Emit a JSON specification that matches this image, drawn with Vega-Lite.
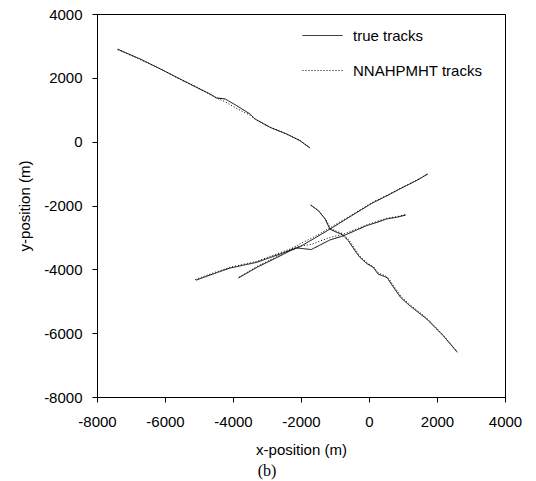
{
  "$schema": "https://vega.github.io/schema/vega-lite/v6.json",
  "width": 408,
  "height": 383,
  "autosize": {"type": "none"},
  "padding": {"left": 97, "top": 14, "right": 31, "bottom": 84},
  "background": "white",
  "config": {
    "view": {"stroke": "black", "strokeWidth": 1},
    "font": "Liberation Sans",
    "axis": {
      "grid": false,
      "domainColor": "black",
      "tickColor": "black",
      "tickSize": 5,
      "labelFlush": false,
      "labelOverlap": false,
      "labelFont": "Liberation Sans",
      "labelFontSize": 15,
      "labelColor": "black",
      "titleFont": "Liberation Sans",
      "titleFontSize": 15,
      "titleFontWeight": "normal",
      "titleColor": "black"
    }
  },
  "title": {
    "text": "(b)",
    "orient": "bottom",
    "anchor": "middle",
    "font": "Liberation Serif",
    "fontSize": 16,
    "fontWeight": "normal",
    "color": "black",
    "dx": -34,
    "offset": 6
  },
  "data": {
    "values": [
      {"trk": "1", "type": "true tracks", "i": 0, "x": -7400, "y": 2900},
      {"trk": "1", "type": "true tracks", "i": 1, "x": -6730, "y": 2590},
      {"trk": "1", "type": "true tracks", "i": 2, "x": -6150, "y": 2285},
      {"trk": "1", "type": "true tracks", "i": 3, "x": -5650, "y": 2015},
      {"trk": "1", "type": "true tracks", "i": 4, "x": -5070, "y": 1700},
      {"trk": "1", "type": "true tracks", "i": 5, "x": -4680, "y": 1495},
      {"trk": "1", "type": "true tracks", "i": 6, "x": -4480, "y": 1370},
      {"trk": "1", "type": "true tracks", "i": 7, "x": -4230, "y": 1338},
      {"trk": "1", "type": "true tracks", "i": 8, "x": -3890, "y": 1128},
      {"trk": "1", "type": "true tracks", "i": 9, "x": -3500, "y": 868},
      {"trk": "1", "type": "true tracks", "i": 10, "x": -3350, "y": 711},
      {"trk": "1", "type": "true tracks", "i": 11, "x": -2910, "y": 448},
      {"trk": "1", "type": "true tracks", "i": 12, "x": -2420, "y": 241},
      {"trk": "1", "type": "true tracks", "i": 13, "x": -2030, "y": 31},
      {"trk": "1", "type": "true tracks", "i": 14, "x": -1730, "y": -200},

      {"trk": "1e", "type": "NNAHPMHT tracks", "i": 0, "x": -7380, "y": 2880},
      {"trk": "1e", "type": "NNAHPMHT tracks", "i": 1, "x": -6730, "y": 2575},
      {"trk": "1e", "type": "NNAHPMHT tracks", "i": 2, "x": -6150, "y": 2290},
      {"trk": "1e", "type": "NNAHPMHT tracks", "i": 3, "x": -5650, "y": 2005},
      {"trk": "1e", "type": "NNAHPMHT tracks", "i": 4, "x": -5070, "y": 1710},
      {"trk": "1e", "type": "NNAHPMHT tracks", "i": 5, "x": -4680, "y": 1480},
      {"trk": "1e", "type": "NNAHPMHT tracks", "i": 6, "x": -4480, "y": 1360},
      {"trk": "1e", "type": "NNAHPMHT tracks", "i": 7, "x": -4230, "y": 1250},
      {"trk": "1e", "type": "NNAHPMHT tracks", "i": 8, "x": -3890, "y": 1040},
      {"trk": "1e", "type": "NNAHPMHT tracks", "i": 9, "x": -3500, "y": 830},
      {"trk": "1e", "type": "NNAHPMHT tracks", "i": 10, "x": -3350, "y": 700},
      {"trk": "1e", "type": "NNAHPMHT tracks", "i": 11, "x": -2910, "y": 455},
      {"trk": "1e", "type": "NNAHPMHT tracks", "i": 12, "x": -2420, "y": 230},
      {"trk": "1e", "type": "NNAHPMHT tracks", "i": 13, "x": -2030, "y": 40},
      {"trk": "1e", "type": "NNAHPMHT tracks", "i": 14, "x": -1750, "y": -190},

      {"trk": "A", "type": "true tracks", "i": 0, "x": -3840, "y": -4270},
      {"trk": "A", "type": "true tracks", "i": 1, "x": -3300, "y": -3940},
      {"trk": "A", "type": "true tracks", "i": 2, "x": -2710, "y": -3630},
      {"trk": "A", "type": "true tracks", "i": 3, "x": -2320, "y": -3420},
      {"trk": "A", "type": "true tracks", "i": 4, "x": -2030, "y": -3290},
      {"trk": "A", "type": "true tracks", "i": 5, "x": -1640, "y": -3050},
      {"trk": "A", "type": "true tracks", "i": 6, "x": -1150, "y": -2740},
      {"trk": "A", "type": "true tracks", "i": 7, "x": -755, "y": -2480},
      {"trk": "A", "type": "true tracks", "i": 8, "x": -360, "y": -2220},
      {"trk": "A", "type": "true tracks", "i": 9, "x": 80, "y": -1935},
      {"trk": "A", "type": "true tracks", "i": 10, "x": 570, "y": -1670},
      {"trk": "A", "type": "true tracks", "i": 11, "x": 910, "y": -1480},
      {"trk": "A", "type": "true tracks", "i": 12, "x": 1200, "y": -1325},
      {"trk": "A", "type": "true tracks", "i": 13, "x": 1480, "y": -1170},
      {"trk": "A", "type": "true tracks", "i": 14, "x": 1730, "y": -1010},

      {"trk": "Ae", "type": "NNAHPMHT tracks", "i": 0, "x": -3820, "y": -4250},
      {"trk": "Ae", "type": "NNAHPMHT tracks", "i": 1, "x": -3300, "y": -3910},
      {"trk": "Ae", "type": "NNAHPMHT tracks", "i": 2, "x": -2710, "y": -3600},
      {"trk": "Ae", "type": "NNAHPMHT tracks", "i": 3, "x": -2320, "y": -3380},
      {"trk": "Ae", "type": "NNAHPMHT tracks", "i": 4, "x": -2030, "y": -3200},
      {"trk": "Ae", "type": "NNAHPMHT tracks", "i": 5, "x": -1640, "y": -3000},
      {"trk": "Ae", "type": "NNAHPMHT tracks", "i": 6, "x": -1150, "y": -2700},
      {"trk": "Ae", "type": "NNAHPMHT tracks", "i": 7, "x": -755, "y": -2450},
      {"trk": "Ae", "type": "NNAHPMHT tracks", "i": 8, "x": -360, "y": -2200},
      {"trk": "Ae", "type": "NNAHPMHT tracks", "i": 9, "x": 80, "y": -1910},
      {"trk": "Ae", "type": "NNAHPMHT tracks", "i": 10, "x": 570, "y": -1660},
      {"trk": "Ae", "type": "NNAHPMHT tracks", "i": 11, "x": 910, "y": -1465},
      {"trk": "Ae", "type": "NNAHPMHT tracks", "i": 12, "x": 1200, "y": -1315},
      {"trk": "Ae", "type": "NNAHPMHT tracks", "i": 13, "x": 1480, "y": -1160},
      {"trk": "Ae", "type": "NNAHPMHT tracks", "i": 14, "x": 1710, "y": -1020},

      {"trk": "B", "type": "true tracks", "i": 0, "x": -5090, "y": -4340},
      {"trk": "B", "type": "true tracks", "i": 1, "x": -4600, "y": -4150},
      {"trk": "B", "type": "true tracks", "i": 2, "x": -4090, "y": -3960},
      {"trk": "B", "type": "true tracks", "i": 3, "x": -3300, "y": -3780},
      {"trk": "B", "type": "true tracks", "i": 4, "x": -2620, "y": -3520},
      {"trk": "B", "type": "true tracks", "i": 5, "x": -2130, "y": -3330},
      {"trk": "B", "type": "true tracks", "i": 6, "x": -1700, "y": -3380},
      {"trk": "B", "type": "true tracks", "i": 7, "x": -1150, "y": -3080},
      {"trk": "B", "type": "true tracks", "i": 8, "x": -755, "y": -2950},
      {"trk": "B", "type": "true tracks", "i": 9, "x": -70, "y": -2630},
      {"trk": "B", "type": "true tracks", "i": 10, "x": 230, "y": -2530},
      {"trk": "B", "type": "true tracks", "i": 11, "x": 520, "y": -2420},
      {"trk": "B", "type": "true tracks", "i": 12, "x": 810, "y": -2370},
      {"trk": "B", "type": "true tracks", "i": 13, "x": 1080, "y": -2300},

      {"trk": "Be", "type": "NNAHPMHT tracks", "i": 0, "x": -5110, "y": -4320},
      {"trk": "Be", "type": "NNAHPMHT tracks", "i": 1, "x": -4600, "y": -4120},
      {"trk": "Be", "type": "NNAHPMHT tracks", "i": 2, "x": -4090, "y": -3935},
      {"trk": "Be", "type": "NNAHPMHT tracks", "i": 3, "x": -3300, "y": -3750},
      {"trk": "Be", "type": "NNAHPMHT tracks", "i": 4, "x": -2620, "y": -3480},
      {"trk": "Be", "type": "NNAHPMHT tracks", "i": 5, "x": -2130, "y": -3290},
      {"trk": "Be", "type": "NNAHPMHT tracks", "i": 6, "x": -1700, "y": -3220},
      {"trk": "Be", "type": "NNAHPMHT tracks", "i": 7, "x": -1150, "y": -3000},
      {"trk": "Be", "type": "NNAHPMHT tracks", "i": 8, "x": -755, "y": -2900},
      {"trk": "Be", "type": "NNAHPMHT tracks", "i": 9, "x": -70, "y": -2610},
      {"trk": "Be", "type": "NNAHPMHT tracks", "i": 10, "x": 230, "y": -2500},
      {"trk": "Be", "type": "NNAHPMHT tracks", "i": 11, "x": 520, "y": -2400},
      {"trk": "Be", "type": "NNAHPMHT tracks", "i": 12, "x": 810, "y": -2350},
      {"trk": "Be", "type": "NNAHPMHT tracks", "i": 13, "x": 1060, "y": -2290},

      {"trk": "C", "type": "true tracks", "i": 0, "x": -1720, "y": -1980},
      {"trk": "C", "type": "true tracks", "i": 1, "x": -1490, "y": -2160},
      {"trk": "C", "type": "true tracks", "i": 2, "x": -1290, "y": -2420},
      {"trk": "C", "type": "true tracks", "i": 3, "x": -1150, "y": -2740},
      {"trk": "C", "type": "true tracks", "i": 4, "x": -950, "y": -2840},
      {"trk": "C", "type": "true tracks", "i": 5, "x": -800, "y": -2900},
      {"trk": "C", "type": "true tracks", "i": 6, "x": -610, "y": -3100},
      {"trk": "C", "type": "true tracks", "i": 7, "x": -410, "y": -3420},
      {"trk": "C", "type": "true tracks", "i": 8, "x": -265, "y": -3630},
      {"trk": "C", "type": "true tracks", "i": 9, "x": -70, "y": -3815},
      {"trk": "C", "type": "true tracks", "i": 10, "x": 125, "y": -3940},
      {"trk": "C", "type": "true tracks", "i": 11, "x": 270, "y": -4150},
      {"trk": "C", "type": "true tracks", "i": 12, "x": 470, "y": -4230},
      {"trk": "C", "type": "true tracks", "i": 13, "x": 540, "y": -4270},
      {"trk": "C", "type": "true tracks", "i": 14, "x": 700, "y": -4530},
      {"trk": "C", "type": "true tracks", "i": 15, "x": 930, "y": -4880},
      {"trk": "C", "type": "true tracks", "i": 16, "x": 1200, "y": -5140},
      {"trk": "C", "type": "true tracks", "i": 17, "x": 1450, "y": -5350},
      {"trk": "C", "type": "true tracks", "i": 18, "x": 1700, "y": -5560},
      {"trk": "C", "type": "true tracks", "i": 19, "x": 2185, "y": -6080},
      {"trk": "C", "type": "true tracks", "i": 20, "x": 2600, "y": -6600},

      {"trk": "Ce", "type": "NNAHPMHT tracks", "i": 0, "x": -1700, "y": -2000},
      {"trk": "Ce", "type": "NNAHPMHT tracks", "i": 1, "x": -1470, "y": -2180},
      {"trk": "Ce", "type": "NNAHPMHT tracks", "i": 2, "x": -1270, "y": -2450},
      {"trk": "Ce", "type": "NNAHPMHT tracks", "i": 3, "x": -1130, "y": -2720},
      {"trk": "Ce", "type": "NNAHPMHT tracks", "i": 4, "x": -950, "y": -2810},
      {"trk": "Ce", "type": "NNAHPMHT tracks", "i": 5, "x": -780, "y": -2880},
      {"trk": "Ce", "type": "NNAHPMHT tracks", "i": 6, "x": -600, "y": -3060},
      {"trk": "Ce", "type": "NNAHPMHT tracks", "i": 7, "x": -400, "y": -3380},
      {"trk": "Ce", "type": "NNAHPMHT tracks", "i": 8, "x": -250, "y": -3610},
      {"trk": "Ce", "type": "NNAHPMHT tracks", "i": 9, "x": -60, "y": -3790},
      {"trk": "Ce", "type": "NNAHPMHT tracks", "i": 10, "x": 140, "y": -3930},
      {"trk": "Ce", "type": "NNAHPMHT tracks", "i": 11, "x": 290, "y": -4120},
      {"trk": "Ce", "type": "NNAHPMHT tracks", "i": 12, "x": 480, "y": -4200},
      {"trk": "Ce", "type": "NNAHPMHT tracks", "i": 13, "x": 560, "y": -4260},
      {"trk": "Ce", "type": "NNAHPMHT tracks", "i": 14, "x": 720, "y": -4510},
      {"trk": "Ce", "type": "NNAHPMHT tracks", "i": 15, "x": 950, "y": -4860},
      {"trk": "Ce", "type": "NNAHPMHT tracks", "i": 16, "x": 1220, "y": -5120},
      {"trk": "Ce", "type": "NNAHPMHT tracks", "i": 17, "x": 1470, "y": -5330},
      {"trk": "Ce", "type": "NNAHPMHT tracks", "i": 18, "x": 1720, "y": -5550},
      {"trk": "Ce", "type": "NNAHPMHT tracks", "i": 19, "x": 2190, "y": -6070},
      {"trk": "Ce", "type": "NNAHPMHT tracks", "i": 20, "x": 2580, "y": -6570}
    ]
  },
  "mark": {"type": "line", "color": "black", "strokeWidth": 1, "clip": true},
  "encoding": {
    "x": {
      "field": "x",
      "type": "quantitative",
      "scale": {"domain": [-8000, 4000], "nice": false, "zero": false},
      "axis": {
        "title": "x-position (m)",
        "values": [-8000, -6000, -4000, -2000, 0, 2000, 4000],
        "labelExpr": "'' + datum.value",
        "labelPadding": 12,
        "titlePadding": 13
      }
    },
    "y": {
      "field": "y",
      "type": "quantitative",
      "scale": {"domain": [-8000, 4000], "nice": false, "zero": false},
      "axis": {
        "title": "y-position (m)",
        "values": [-8000, -6000, -4000, -2000, 0, 2000, 4000],
        "labelExpr": "'' + datum.value",
        "labelPadding": 10,
        "titlePadding": 11
      }
    },
    "detail": {"field": "trk"},
    "order": {"field": "i", "type": "quantitative"},
    "strokeDash": {
      "field": "type",
      "type": "nominal",
      "scale": {"domain": ["true tracks", "NNAHPMHT tracks"], "range": [[1, 0], [1, 2]]},
      "legend": {
        "title": null,
        "orient": "none",
        "legendX": 205,
        "legendY": 1,
        "symbolType": "stroke",
        "symbolSize": 1600,
        "symbolStrokeWidth": 1,
        "symbolStrokeColor": "black",
        "labelFont": "Liberation Sans",
        "labelFontSize": 15,
        "labelColor": "black",
        "labelOffset": 10,
        "rowPadding": 6
      }
    }
  }
}
